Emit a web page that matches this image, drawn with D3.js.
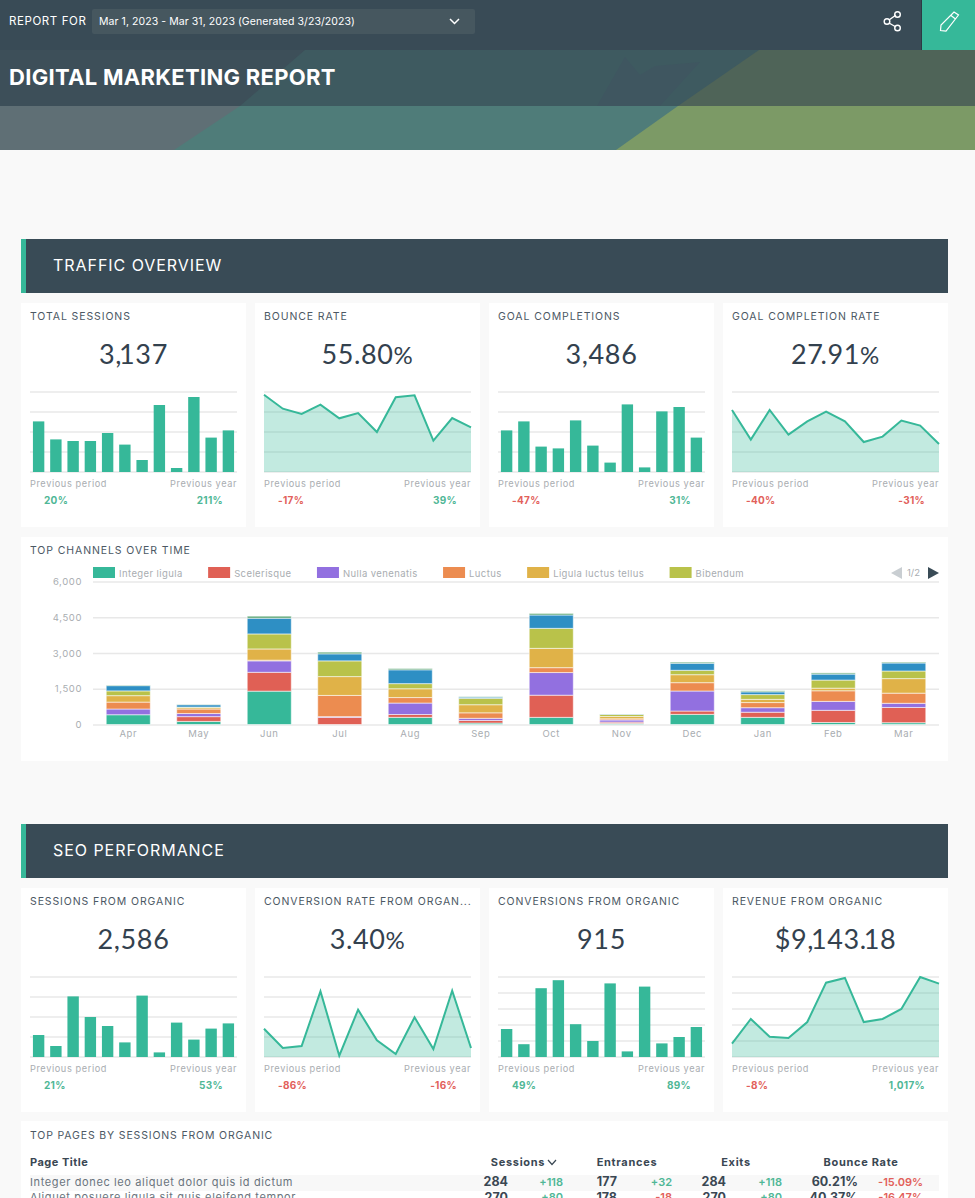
<!DOCTYPE html>
<html>
<head>
<meta charset="utf-8">
<script src="https://cdn.jsdelivr.net/npm/d3@7"></script>
<style>
  html, body { margin: 0; padding: 0; background: #f9f9f9; overflow: hidden; }
  svg { display: block; }
  text { font-family: Inter, "Noto Sans", sans-serif; }
  .num { font-family: Lato, sans-serif; }
</style>
</head>
<body>
<div id="chart"></div>
<script>
// values
const months = ["Apr", "May", "Jun", "Jul", "Aug", "Sep", "Oct", "Nov", "Dec", "Jan", "Feb", "Mar"]

const channels = ["Integer ligula", "Scelerisque", "Nulla venenatis", "Luctus", "Ligula luctus tellus", "Bibendum", "Page two blue", "Page two green"]
const channelColors = ["#36b899", "#e06055", "#9270e0", "#ec8c50", "#e0b248", "#b9c24a", "#2e8fc4", "#5aa574"]
const legendCount = 6

const integerLigula = [410, 130, 1400, 0, 300, 60, 300, 45, 425, 300, 85, 75]
const scelerisque = [0, 200, 790, 300, 120, 110, 930, 55, 140, 215, 510, 640]
const nullaVenenatis = [240, 130, 480, 30, 480, 90, 950, 90, 840, 190, 375, 175]
const luctus = [290, 190, 30, 890, 230, 230, 205, 50, 350, 215, 445, 425]
const ligulaLuctusTellus = [270, 60, 470, 790, 370, 340, 810, 95, 335, 135, 110, 610]
const bibendum = [200, 20, 630, 660, 215, 270, 840, 85, 185, 200, 340, 320]
const pageTwoBlue = [220, 100, 660, 295, 580, 50, 560, 15, 295, 115, 250, 335]
const pageTwoGreen = [20, 10, 85, 70, 55, 15, 65, 0, 48, 45, 50, 38]
const channelSeries = [integerLigula, scelerisque, nullaVenenatis, luctus, ligulaLuctusTellus, bibendum, pageTwoBlue, pageTwoGreen]
const channelTicks = [0, 1500, 3000, 4500, 6000]

const totalSessions = [253, 163, 155, 155, 195, 137, 60, 335, 20, 375, 172, 208]
const bounceRate = [77.3, 63.3, 58, 67.3, 53.7, 59, 40, 74.7, 76.7, 31.3, 54, 44.7]
const goalCompletions = [208, 253, 127, 118, 258, 132, 47, 338, 23, 303, 325, 172]
const goalCompletionRate = [31, 16.2, 31, 18.7, 25.3, 30.2, 25.3, 15, 17.7, 25.7, 23.2, 14]
const sessionsOrganic = [110, 55, 303, 200, 155, 73, 307, 23, 172, 87, 142, 168]
const conversionRateOrganic = [2.83, 0.9, 1.1, 6.57, 0.13, 4.73, 1.67, 0.3, 3.97, 0.8, 6.63, 0.9]
const conversionsOrganic = [35, 16, 86, 96, 41, 20, 92, 7, 88, 17, 25, 37.5]
const revenueOrganic = [167, 475, 254, 238, 437, 929, 988, 437, 475, 600, 1000, 917]

const tileTitles = ["TOTAL SESSIONS", "BOUNCE RATE", "GOAL COMPLETIONS", "GOAL COMPLETION RATE",
  "SESSIONS FROM ORGANIC", "CONVERSION RATE FROM ORGAN...", "CONVERSIONS FROM ORGANIC", "REVENUE FROM ORGANIC"]
const tileValues = ["3,137", "55.80%", "3,486", "27.91%", "2,586", "3.40%", "915", "$9,143.18"]
const tileSeries = [totalSessions, bounceRate, goalCompletions, goalCompletionRate,
  sessionsOrganic, conversionRateOrganic, conversionsOrganic, revenueOrganic]
const tileMax = [400, 80, 400, 40, 400, 8, 100, 1000]
const tileTypes = ["bar", "area", "bar", "area", "bar", "area", "bar", "area"]
const prevPeriod = ["20%", "-17%", "-47%", "-40%", "21%", "-86%", "49%", "-8%"]
const prevYear = ["211%", "39%", "31%", "-31%", "53%", "-16%", "89%", "1,017%"]

const tableHeaders = ["Sessions", "Entrances", "Exits", "Bounce Rate"]
const tableRows = [
  ["Integer donec leo aliquet dolor quis id dictum", "284", "+118", "177", "+32", "284", "+118", "60.21%", "-15.09%"],
  ["Aliquet posuere ligula sit quis eleifend tempor", "270", "+80", "178", "-18", "270", "+80", "40.37%", "-16.47%"]
]

const teal = "#36b899", red = "#e2605a", dark = "#394b56", ink = "#33414e", grid = "#e8e8e8"

const svg = d3.select("#chart").append("svg").attr("width", 975).attr("height", 1198)
svg.append("rect").attr("width", 975).attr("height", 1198).attr("fill", "#f9f9f9")

// small helper, everything on this page is text or rect
const label = (g, x, y, str, size, fill, opts = {}) => g.append("text")
  .attr("x", x).attr("y", y).attr("dy", "0.35em")
  .attr("font-size", size).attr("fill", fill)
  .attr("font-weight", opts.weight || 400)
  .attr("letter-spacing", opts.spacing || 0)
  .attr("text-anchor", opts.anchor || "start")
  .attr("class", opts.cls || null)
  .text(str)

const block = (g, x, y, w, h, fill) => g.append("rect")
  .attr("x", x).attr("y", y).attr("width", w).attr("height", h).attr("fill", fill)

const poly = (g, pts, fill) => g.append("polygon").attr("points", pts).attr("fill", fill)

// ---- header ----
const head = svg.append("g")
block(head, 0, 50, 975, 56, "#3e5a60")
block(head, 0, 106, 975, 44, "#4f7c79")
poly(head, "0,50 305,50 240,106 0,106", "#3d4f59")
poly(head, "597,106 625,57 640,75 655,66 700,62 660,106", "#3f5660")
poly(head, "759,50 975,50 975,106 678,106", "#4f6458")
poly(head, "0,106 240,106 174,150 0,150", "#5f6f75")
poly(head, "678,106 975,106 975,150 616,150", "#7c9a66")
block(head, 0, 0, 975, 50, dark)
block(head, 921, 0, 1, 50, "#2c3a43")
block(head, 922, 0, 53, 50, teal)
head.append("rect").attr("x", 92).attr("y", 9).attr("width", 383).attr("height", 25).attr("rx", 2).attr("fill", "#46575f")
label(head, 9, 21, "REPORT FOR", 11.5, "#fff", {spacing: 0.6})
label(head, 99, 21, "Mar 1, 2023 - Mar 31, 2023 (Generated 3/23/2023)", 10.5, "#fff", {spacing: 0.07})
head.append("path").attr("d", "M450,19 L454.5,23.5 L459,19").attr("fill", "none").attr("stroke", "#fff").attr("stroke-width", 1.5)
label(head, 9, 77, "DIGITAL MARKETING REPORT", 22, "#fff", {weight: 700, spacing: 0.3})

// share icon
const share = head.append("g").attr("fill", "none").attr("stroke", "#fff").attr("stroke-width", 1.4)
share.append("path").attr("d", "M889,20 L896,15 M889,23 L896,27")
share.append("circle").attr("cx", 887).attr("cy", 21.5).attr("r", 2.8)
share.append("circle").attr("cx", 897.5).attr("cy", 14.5).attr("r", 2.8)
share.append("circle").attr("cx", 897.5).attr("cy", 28).attr("r", 2.8)
// pencil icon
head.append("path").attr("d", "M954,12 L958.5,15 L946,31 L940.5,30.5 L941,25 Z M951,15.5 L955.5,19")
  .attr("fill", "none").attr("stroke", "#fff").attr("stroke-width", 1.2)

// ---- section bars ----
const sectionBar = (y, title) => {
  block(svg, 21, y, 927, 54, dark)
  block(svg, 21, y, 5, 54, teal)
  label(svg, 53, y + 26.5, title, 16, "#fff", {spacing: 0.95})
}
sectionBar(239, "TRAFFIC OVERVIEW")
sectionBar(824, "SEO PERFORMANCE")

// ---- kpi tiles ----
const percentSplit = (sel, str, smallSize) => {
  const plain = str.replace("%", "")
  sel.text(plain)
  if (str.endsWith("%")) sel.append("tspan").attr("font-size", smallSize).text("%")
}

// the report font pulls the 1 hard against a comma or point, so do that by hand
const tightPairs = [",1", ".1", "7.", "1."]
const bigNumber = (sel, str) => {
  percentSplit(sel, str, 24)
  const dx = str.replace("%", "").split("").map((ch, k, all) =>
    k > 0 && tightPairs.includes(all[k - 1] + ch) ? -3 : 0)
  sel.attr("dx", dx.join(" "))
}

const drawTile = (i, left, top) => {
  const g = svg.append("g").attr("transform", `translate(${left},${top})`)
  block(g, 0, 0, 225, 224, "#fff")
  label(g, 9, 13, tileTitles[i], 10.5, "#4c5864", {spacing: 0.9})

  const big = label(g, 112.5, 52, "", 27, ink, {anchor: "middle", cls: "num", spacing: 0.6})
  bigNumber(big, tileValues[i])

  const w = 207, h = 80
  const inner = g.append("g").attr("transform", "translate(9,89)")
  const y = d3.scaleLinear().domain([0, tileMax[i]]).range([h, 0])
  inner.selectAll(".grid").data(y.ticks(4)).enter().append("line")
    .attr("x1", 0).attr("x2", w)
    .attr("y1", d => y(d)).attr("y2", d => y(d))
    .attr("stroke", grid).attr("stroke-width", 1.3)

  if (tileTypes[i] === "bar") {
    const x = d3.scaleBand().domain(months).range([0, w]).paddingInner(0.34).paddingOuter(0.17)
    inner.selectAll(".bar").data(tileSeries[i]).enter().append("rect")
      .attr("x", (d, k) => x(months[k]))
      .attr("y", d => y(d))
      .attr("width", x.bandwidth())
      .attr("height", d => h - y(d))
      .attr("fill", teal)
  } else {
    const x = d3.scalePoint().domain(months).range([0, w])
    const area = d3.area().x((d, k) => x(months[k])).y0(h).y1(d => y(d))
    const line = d3.line().x((d, k) => x(months[k])).y(d => y(d))
    inner.append("path").attr("d", area(tileSeries[i])).attr("fill", teal).attr("opacity", 0.3)
    inner.append("path").attr("d", line(tileSeries[i])).attr("fill", "none").attr("stroke", teal).attr("stroke-width", 2)
  }

  label(g, 9, 181, "Previous period", 9.2, "#a9adb1", {spacing: 0.6})
  label(g, 216, 181, "Previous year", 9.2, "#a9adb1", {spacing: 0.6, anchor: "end"})

  const deltaColor = s => s.startsWith("-") ? red : "#4fb796"
  const a = label(g, 23, 197, "", 10, deltaColor(prevPeriod[i]), {weight: 700, spacing: 0.3})
  percentSplit(a, prevPeriod[i], 10)
  const b = label(g, 202, 197, "", 10, deltaColor(prevYear[i]), {weight: 700, spacing: 0.3, anchor: "end"})
  percentSplit(b, prevYear[i], 10)
}

const tileLefts = [21, 255, 489, 723]
tileLefts.forEach((left, i) => drawTile(i, left, 303))
tileLefts.forEach((left, i) => drawTile(i + 4, left, 888))

// ---- stacked chart ----
const stackCard = svg.append("g").attr("transform", "translate(21,537)")
block(stackCard, 0, 0, 927, 224, "#fff")
label(stackCard, 9, 13, "TOP CHANNELS OVER TIME", 10.5, "#4c5864", {spacing: 0.9})

const plot = svg.append("g").attr("transform", "translate(93,581.5)")
const plotW = 846, plotH = 143
const x = d3.scaleBand().domain(months).range([0, plotW]).paddingInner(0.375).paddingOuter(0.1875)
const y = d3.scaleLinear().domain([0, 6000]).range([plotH, 0])

const yAxis = plot.append("g").call(d3.axisLeft(y).tickValues(channelTicks).tickSize(-plotW).tickPadding(11).tickFormat(d3.format(",")))
yAxis.select(".domain").remove()
yAxis.selectAll("line").attr("stroke", grid).attr("stroke-width", 1.3)
yAxis.selectAll("text").attr("fill", "#a9adb1").attr("font-size", 9.5).attr("letter-spacing", 0.6)

const xAxis = plot.append("g").attr("transform", `translate(0,${plotH})`).call(d3.axisBottom(x).tickSize(0).tickPadding(6))
xAxis.select(".domain").remove()
xAxis.selectAll("text").attr("fill", "#a9adb1").attr("font-size", 9.5).attr("letter-spacing", 0.6)

const rows = months.map((m, k) => {
  const row = {month: m}
  channels.forEach((c, s) => { row[c] = channelSeries[s][k] })
  return row
})
const stacked = d3.stack().keys(channels)(rows)

plot.selectAll(".layer").data(stacked).enter().append("g")
  .attr("fill", (d, i) => channelColors[i])
  .selectAll("rect").data(d => d).enter().append("rect")
  .attr("x", d => x(d.data.month))
  .attr("y", d => y(d[1]))
  .attr("width", x.bandwidth())
  .attr("height", d => y(d[0]) - y(d[1]))
  .attr("stroke", "#fff").attr("stroke-opacity", 0.55).attr("stroke-width", 1)

// legend, first page only
let legendX = 93
channels.slice(0, legendCount).forEach((c, i) => {
  block(svg, legendX, 567, 22, 11, channelColors[i])
  const t = label(svg, legendX + 26, 573.5, c, 9.5, "#a9adb1", {spacing: 0.4})
  legendX += 26 + t.node().getComputedTextLength() + 25.5
})
poly(svg, "891,573 902,567 902,579", "#c9ced2")
label(svg, 907, 573, "1/2", 9.5, "#a9adb1")
poly(svg, "939,573 928,567 928,579", dark)

// ---- table ----
const table = svg.append("g")
block(table, 21, 1121, 927, 77, "#fff")
label(table, 30, 1135, "TOP PAGES BY SESSIONS FROM ORGANIC", 10.5, "#4c5864", {spacing: 0.85})
label(table, 30, 1162, "Page Title", 11, "#3a4753", {weight: 700, spacing: 0.5})

const headerCenters = [518, 627, 736, 861]
tableHeaders.forEach((h, i) => label(table, headerCenters[i], 1162, h, 11, "#3a4753", {weight: 700, spacing: 0.7, anchor: "middle"}))
table.append("path").attr("d", "M548,1160 L552,1164.5 L556,1160").attr("fill", "none").attr("stroke", "#3a4753").attr("stroke-width", 1.2)

block(table, 30, 1175, 909, 16, "#f8f8f8")
const cellEnds = [508, 563, 617, 672, 726, 782, 858, 923]
tableRows.forEach((row, r) => {
  const rowY = 1182 + r * 15.5
  label(table, 30, rowY, row[0], 11, "#6a747d", {spacing: 0.62})
  row.slice(1).forEach((v, c) => {
    if (c % 2 === 0) {
      label(table, cellEnds[c], rowY, v, 12.5, "#3a4753", {weight: 700, anchor: "end"})
    } else {
      label(table, cellEnds[c], rowY, v, 11, v.startsWith("-") ? red : "#4fb796", {weight: 600, anchor: "end"})
    }
  })
})
</script>
</body>
</html>
